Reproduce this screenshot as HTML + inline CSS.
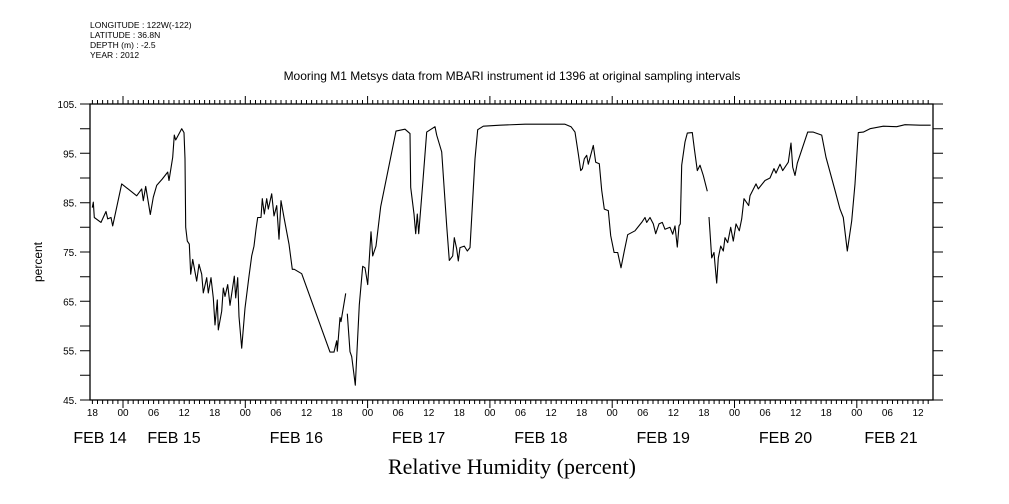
<!DOCTYPE html>
<html><head><meta charset="utf-8"><style>
body{margin:0;background:#fff;}
svg{display:block;}
text{font-family:"Liberation Sans",sans-serif;fill:#000;}
</style></head><body>
<svg id="chart" width="1009" height="504" viewBox="0 0 1009 504" xmlns="http://www.w3.org/2000/svg">
<g font-size="8.5">
<text x="90" y="28">LONGITUDE : 122W(-122)</text>
<text x="90" y="38">LATITUDE : 36.8N</text>
<text x="90" y="48">DEPTH (m) : -2.5</text>
<text x="90" y="58">YEAR : 2012</text>
</g>
<text x="512" y="80" font-size="12" text-anchor="middle">Mooring M1 Metsys data from MBARI instrument id 1396 at original sampling intervals</text>
<text transform="translate(42,262) rotate(-90)" font-size="12" text-anchor="middle">percent</text>
<text x="512" y="474" font-size="22" text-anchor="middle" style="font-family:'Liberation Serif',serif">Relative Humidity (percent)</text>
<rect x="90" y="104" width="843" height="296" fill="none" stroke="#000" stroke-width="1.3"/>
<g id="axes"></g>
<g id="series"></g>
</svg>
<script>
// hours since FEB 15 00:00
const hours=[-6.02,-5.83,-5.63,-4.32,-3.34,-3.00,-2.35,-2.02,-0.26,2.69,3.67,3.98,4.45,5.36,5.95,6.61,7.71,8.77,9.03,9.75,10.07,10.34,11.52,11.97,12.17,12.30,12.62,13.01,13.29,13.68,14.46,14.91,15.44,15.76,16.43,16.74,17.27,17.72,18.05,18.51,18.70,19.37,19.68,20.02,20.55,21.00,21.84,22.12,22.51,22.76,23.29,23.94,24.73,25.26,25.71,26.10,26.43,27.08,27.34,27.73,28.20,28.51,29.18,29.63,30.16,30.61,31.01,31.59,32.58,33.22,33.62,35.07,40.62,41.41,41.94,42.05,42.58,42.78,43.70,43.85,44.02,44.55,44.88,45.59,46.37,47.04,47.49,48.02,48.67,49.00,49.65,50.57,53.57,55.34,56.32,56.46,57.11,57.44,57.75,58.03,58.81,59.60,61.23,61.56,62.54,63.52,64.03,64.70,65.01,65.49,65.80,66.13,66.98,67.56,68.09,69.07,69.61,70.71,73.98,78.89,82.81,86.74,87.92,88.70,89.35,89.82,90.14,90.53,91.00,91.31,92.29,92.76,93.47,93.94,94.45,95.24,95.71,96.36,97.08,97.73,98.38,99.04,100.47,101.79,102.43,102.77,103.42,104.06,104.54,105.18,105.83,106.36,107.34,107.87,108.32,108.77,109.11,109.37,109.64,110.29,110.74,111.72,112.11,112.70,113.23,113.88,114.66,114.8,115.0,115.53,115.98,116.17,116.51,116.82,117.29,117.80,118.14,118.67,119.26,119.77,120.30,120.94,121.41,121.87,122.79,123.04,124.22,124.67,125.98,126.96,127.75,128.14,128.93,129.46,130.56,131.09,131.42,131.87,132.32,134.36,135.46,137.11,137.95,139.72,140.70,141.35,142.14,143.00,143.65,144.30,145.28,146.59,149.20,151.83,153.46,156.40,158.50];
const humidity=[84.0,85.1,82.0,81.0,83.2,81.7,82.0,80.3,88.8,86.4,87.8,85.4,88.3,82.6,86.1,88.5,89.8,91.2,89.5,94.2,98.7,97.7,100.0,99.2,93.9,80.0,77.2,76.6,70.5,73.5,69.1,72.5,70.5,66.7,69.8,66.7,69.8,65.7,60.2,65.3,59.2,63.0,67.7,66.0,68.4,64.2,70.1,65.7,69.8,61.9,55.5,63.6,70.1,74.2,76.2,79.6,82.0,82.0,85.8,82.7,85.8,83.7,86.8,82.3,84.4,77.6,85.4,82.0,76.6,71.5,71.5,70.6,54.7,54.7,57.0,54.9,61.7,60.9,66.6,null,62.5,54.8,53.8,48.0,64.3,72.1,71.8,68.4,79.1,74.2,76.2,84.2,99.5,99.9,99.0,88.1,82.7,78.7,82.7,78.7,88.8,99.3,100.4,98.7,95.3,80.3,73.3,74.2,77.9,75.6,73.2,75.9,76.2,75.2,75.9,93.9,99.8,100.5,100.7,100.9,100.9,100.9,100.4,99.3,94.9,91.5,91.9,93.9,94.6,92.8,96.6,93.2,92.9,87.5,83.7,83.4,78.3,74.9,74.9,71.8,75.2,78.5,79.3,81.0,82.0,81.0,82.0,80.7,78.7,80.7,81.0,79.6,80.0,78.6,80.3,76.0,80.3,80.7,92.6,97.3,99.1,99.2,96.0,91.5,92.6,90.5,87.3,null,82.1,73.8,74.9,72.5,68.7,73.8,76.2,75.2,77.9,76.9,80.0,77.2,80.7,79.3,81.7,85.8,84.4,86.4,88.8,87.8,89.5,90.0,91.9,91.0,92.8,91.5,93.2,97.1,92.2,90.5,93.0,99.3,99.3,98.7,94.2,87.5,83.7,82.0,75.2,81.3,88.8,99.2,99.3,100.0,100.5,100.4,100.8,100.7,100.7];
const yTicks=[105,95,85,75,65,55,45];
const hourLabels=["00","06","12","18"];
const dayLabels=["FEB 14","FEB 15","FEB 16","FEB 17","FEB 18","FEB 19","FEB 20","FEB 21"];

const X0=90,X1=933,Y0=104,Y1=400,HMIN=-6.48,HMAX=158.95,VMIN=45,VMAX=105;
const xs=h=>X0+(h-HMIN)/(HMAX-HMIN)*(X1-X0);
const ys=v=>Y1-(v-VMIN)/(VMAX-VMIN)*(Y1-Y0);
const NS="http://www.w3.org/2000/svg";
const axes=document.getElementById('axes');
function mk(tag,attrs,parent){const e=document.createElementNS(NS,tag);for(const k in attrs)e.setAttribute(k,attrs[k]);parent.appendChild(e);return e;}
let tk="";
for(let h=Math.ceil(HMIN);h<=Math.floor(HMAX);h++){
  const x=xs(h).toFixed(1);const major=((h%24)+24)%24===0;
  const L=major?8:4;
  tk+=`M${x},${Y1}v${L}M${x},${Y0}v${-L}`;
  if(h%6===0){
    const t=mk('text',{x:x,y:416,'font-size':'10','text-anchor':'middle'},axes);
    
    
    t.textContent=hourLabels[(((h%24)+24)%24)/6];
  }
}
for(let v=VMIN;v<=VMAX;v+=5){
  const y=ys(v).toFixed(1);
  tk+=`M${X0},${y}h-10M${X1},${y}h10`;
}
const tp=mk('path',{d:tk,stroke:'#000','stroke-width':'1',fill:'none'},axes);


yTicks.forEach(v=>{
  const t=mk('text',{x:77,y:(ys(v)+4).toFixed(1),'font-size':'10','text-anchor':'end'},axes);
  
  
  t.textContent=v+".";
});
dayLabels.forEach((d,i)=>{
  let x=xs((i-1)*24+10);
  if(x<110)x=100;
  if(x>891)x=891;
  const t=mk('text',{x:x.toFixed(1),y:443,'font-size':'16','text-anchor':'middle'},axes);
  
  
  t.textContent=d;
});
let d="",pen=false;
for(let i=0;i<hours.length;i++){
  if(humidity[i]===null){pen=false;continue;}
  d+=(pen?"L":"M")+xs(hours[i]).toFixed(1)+","+ys(humidity[i]).toFixed(1);
  pen=true;
}
const line=mk('path',{d:d,stroke:'#000','stroke-width':'1.1',fill:'none','stroke-linejoin':'round'},document.getElementById('series'));


</script>
</body></html>
